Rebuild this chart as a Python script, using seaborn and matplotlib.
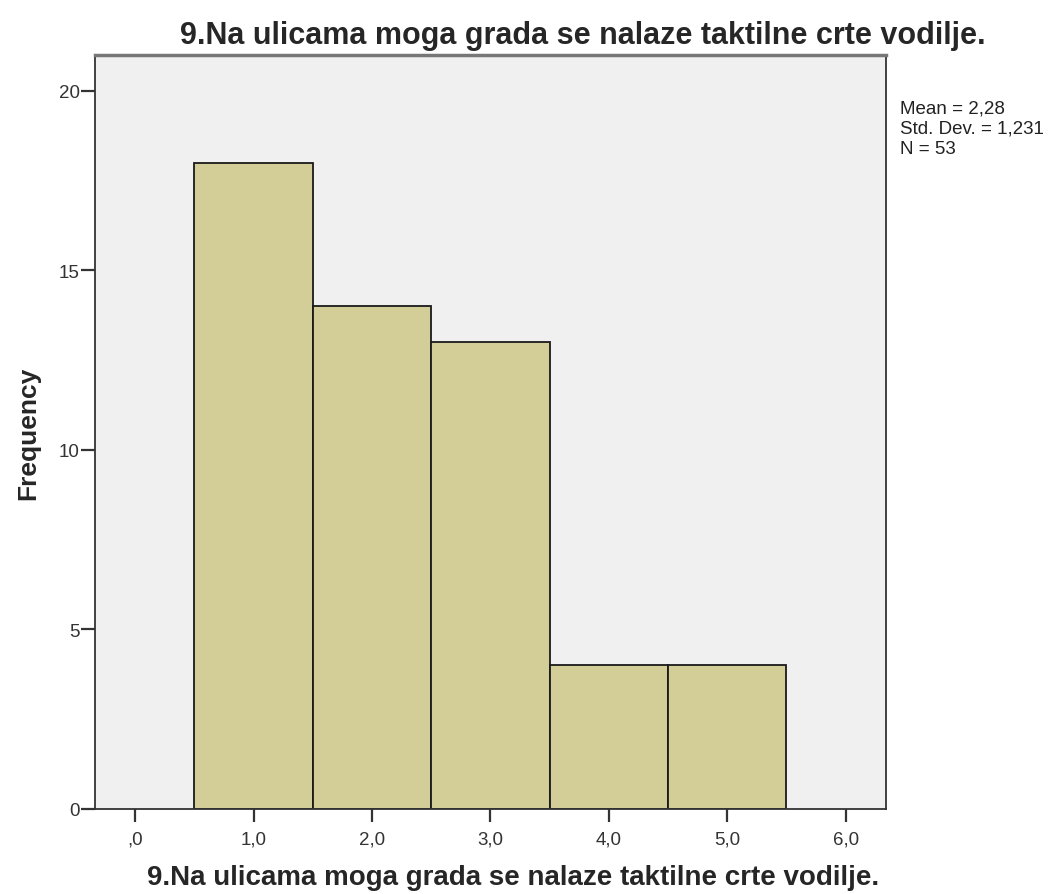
import pandas as pd
import numpy as np
import matplotlib
matplotlib.use('Agg')
import matplotlib.pyplot as plt
import seaborn as sns

# values
answer_values = [1, 2, 3, 4, 5]
frequencies = [18, 14, 13, 4, 4]
x_ticks = [0, 1, 2, 3, 4, 5, 6]
x_tick_labels = [',0', '1,0', '2,0', '3,0', '4,0', '5,0', '6,0']
y_ticks = [0, 5, 10, 15, 20]
title = '9.Na ulicama moga grada se nalaze taktilne crte vodilje.'
stats_text = 'Mean = 2,28\nStd. Dev. = 1,231\nN = 53'

df = pd.DataFrame({'answer': answer_values, 'count': frequencies})

sns.set_style('ticks')
plt.rcParams['font.family'] = ['Liberation Sans', 'DejaVu Sans']

fig = plt.figure(figsize=(10.59, 8.95), dpi=100)
ax = fig.add_axes([0.0897, 0.095, 0.7469, 0.8424])
ax.set_facecolor('#f0f0f0')

sns.histplot(data=df, x='answer', weights='count', discrete=True,
             color='#d3ce98', edgecolor='#1a1a1a', linewidth=1.3,
             alpha=1, ax=ax)

ax.set_xlim(-0.34, 6.34)
ax.set_ylim(0, 21)
ax.set_xticks(x_ticks)
ax.set_xticklabels(x_tick_labels)
ax.set_yticks(y_ticks)
ax.tick_params(axis='both', direction='out', width=1.6,
               labelsize=13.5, colors='#333333')
ax.tick_params(axis='x', length=9.5, pad=6)
ax.tick_params(axis='y', length=10, pad=1)
for side in ['left', 'right', 'top', 'bottom']:
    ax.spines[side].set_visible(True)
    ax.spines[side].set_color('#333333')
    ax.spines[side].set_linewidth(1.3)
ax.spines['top'].set_color('#777777')
ax.spines['top'].set_linewidth(2.5)

ax.set_xlabel(title, fontsize=20, fontweight='bold')
ax.xaxis.label.set_va('center')
ax.xaxis.set_label_coords(0.528, -0.09)
ax.set_ylabel('Frequency', fontsize=19, fontweight='bold')
ax.yaxis.label.set_va('center')
ax.yaxis.set_label_coords(-0.085, 0.5)

fig.text(0.55, 0.96, title, ha='center', va='center', fontsize=22,
         fontweight='bold')
fig.text(0.85, 0.888, stats_text, ha='left', va='top', fontsize=13.5,
         linespacing=1.25, color='#222222')

fig.savefig('out.png', dpi=100)
